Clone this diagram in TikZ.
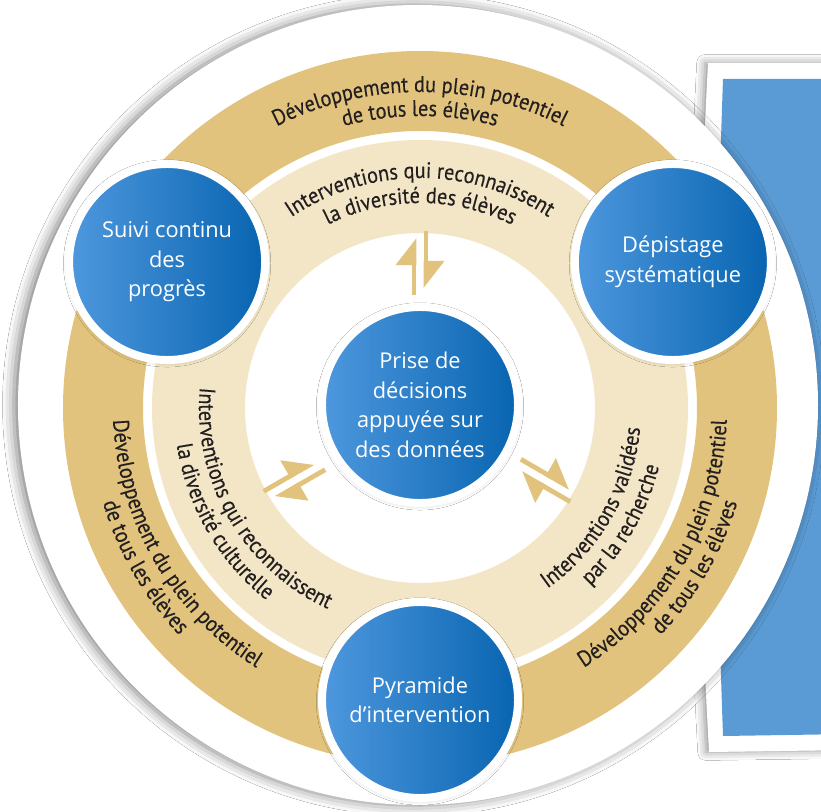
\documentclass[tikz,border=0pt]{standalone}
\usepackage{fontspec}
\setmainfont{Open Sans}
\newfontfamily\ringfont[FakeStretch=0.9, FakeBold=0.3]{PT Sans}
\usepackage{xcolor}
\usetikzlibrary{arrows.meta,decorations.text,shadows.blur}

\definecolor{gold}{RGB}{225,195,125}
\definecolor{beige}{RGB}{243,230,198}
\definecolor{blueL}{RGB}{78,152,222}
\definecolor{blueD}{RGB}{8,100,176}
\definecolor{panel}{RGB}{91,155,213}
\definecolor{ink}{RGB}{35,31,32}

\newcommand\ringsize{\ringfont\fontsize{16}{18}\selectfont\color{ink}}
\newcommand\bluesize{\fontsize{15.5}{21}\selectfont}

\tikzset{
    ringtext/.style={decorate, decoration={text along path, text align=center, text={|\ringsize|#1}}},
    bluenode/.style={circle, minimum size=4.9cm, inner sep=0pt, left color=blueL, right color=blueD,
                     draw=white, line width=0.2cm, text=white, align=center, font=\bluesize,
                     blur shadow={shadow xshift=0pt, shadow yshift=-1pt, shadow blur radius=4pt, shadow opacity=30}},
    harp/.style={draw=gold, line width=0.12cm, -{Triangle[left, length=0.6cm, width=0.9cm]}}
}

\begin{document}
\begin{tikzpicture}[x=0.025cm, y=0.025cm]
    \useasboundingbox (-420,-403) rectangle (401,408);
    \fill[white] (-420,-403) rectangle (401,408);

    % panel behind the wheel
    \fill[white, blur shadow={shadow xshift=-2pt, shadow yshift=0pt, shadow blur radius=6pt, shadow opacity=45}]
        (288,345) -- (430,345) -- (430,-342) -- (289,-344) to[bend left=3] (288,345) -- cycle;
    \fill[panel] (303,329) -- (430,329) -- (430,-326) -- (303,-328) to[bend left=2] (303,329) -- cycle;

    % wheel
    \fill[white, blur shadow={shadow xshift=-3pt, shadow yshift=0pt, shadow blur radius=8pt, shadow opacity=50}]
        (-2,3) circle[radius=400];
    \fill[gold, even odd rule] (0,0) circle[radius=357] circle[radius=277];
    \fill[beige, even odd rule] (0,0) circle[radius=268] circle[radius=175];

    % outer ring
    \path[ringtext={Développement du plein potentiel}] (150:316) arc[start angle=150, end angle=30, radius=316];
    \path[ringtext={de tous les élèves}] (150:292) arc[start angle=150, end angle=30, radius=292];
    \path[ringtext={Développement du plein potentiel}] (150:307) arc[start angle=150, end angle=270, radius=307];
    \path[ringtext={de tous les élèves}] (150:331) arc[start angle=150, end angle=270, radius=331];
    \path[ringtext={Développement du plein potentiel}] (270:307) arc[start angle=270, end angle=390, radius=307];
    \path[ringtext={de tous les élèves}] (270:331) arc[start angle=270, end angle=390, radius=331];

    % inner ring
    \path[ringtext={Interventions qui reconnaissent}] (150:230) arc[start angle=150, end angle=30, radius=230];
    \path[ringtext={la diversité des élèves}] (150:205) arc[start angle=150, end angle=30, radius=205];
    \path[ringtext={Interventions qui reconnaissent}] (150:221) arc[start angle=150, end angle=270, radius=221];
    \path[ringtext={la diversité culturelle}] (150:246) arc[start angle=150, end angle=270, radius=246];
    \path[ringtext={Interventions validées}] (270:221) arc[start angle=270, end angle=390, radius=221];
    \path[ringtext={par la recherche}] (270:246) arc[start angle=270, end angle=390, radius=246];

    % double arrows
    \foreach \a/\n in {90/top, 210/left, 330/right}{
        \begin{scope}[rotate=\a]
            \coordinate (\n-out-a) at (113,6);
            \coordinate (\n-out-b) at (170,6);
            \coordinate (\n-in-a)  at (177,-6);
            \coordinate (\n-in-b)  at (120,-6);
        \end{scope}
        \draw[harp] (\n-out-a) -- (\n-out-b);
        \draw[harp] (\n-in-a) -- (\n-in-b);
    }

    \begin{scope}[every node/.style={bluenode}]
        \node (suivi)     at (150:292) {Suivi continu\\des\\progrès};
        \node (depistage) at (30:292)  {Dépistage\\systématique};
        \node (pyramide)  at (270:292) {Pyramide\\d’intervention};
        \node (decisions) at (0,3)     {Prise de\\décisions\\appuyée sur\\des données};
    \end{scope}
\end{tikzpicture}
\end{document}
